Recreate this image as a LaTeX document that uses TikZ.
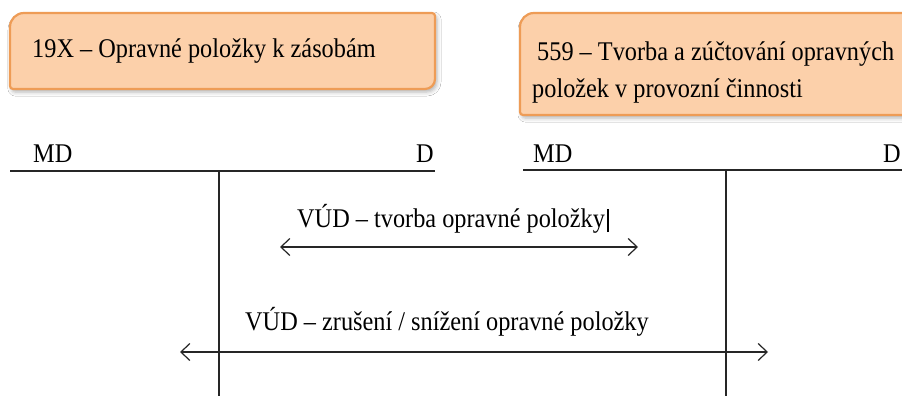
\documentclass[tikz,border=0pt]{standalone}
\usepackage{fontspec}
\setmainfont{Liberation Serif}[FakeStretch=0.9]
\usetikzlibrary{arrows.meta,shadows.blur}
\definecolor{boxfill}{RGB}{252,208,170}
\definecolor{boxline}{RGB}{238,156,86}
\begin{document}
\begin{tikzpicture}[x=1pt,y=-1pt,
  every node/.style={inner sep=0pt,font=\fontsize{27}{31}\selectfont},
  title/.style={fill=boxfill,draw=boxline,line width=2.2pt,
    blur shadow={shadow xshift=2pt,shadow yshift=-3pt,shadow blur radius=4pt,shadow opacity=30}},
  rule/.style={line width=1.2pt,black!85},
  flow/.style={line width=1.2pt,black!85,{Straight Barb[length=9pt,width=17pt]}-{Straight Barb[length=9pt,width=17pt]}}]
\useasboundingbox (0,0) rectangle (902,396);
\clip (0,0) rectangle (902,396);
\fill[white] (0,0) rectangle (902,396);

% account title boxes
\path[title] (10,27) arc[start angle=180,end angle=270,radius=14] -- (432,13)
  arc[start angle=270,end angle=360,radius=3] -- (435,79)
  arc[start angle=0,end angle=90,radius=10] -- (13,89)
  arc[start angle=90,end angle=180,radius=3] -- cycle;
\path[title] (520,27) arc[start angle=180,end angle=270,radius=14] -- (920,13)
  -- (920,115) -- (523,115)
  arc[start angle=90,end angle=180,radius=3] -- cycle;
\node[anchor=base west] (t1) at (32,58) {19X – Opravné položky k zásobám};
\node[anchor=base west] (t2a) at (537,60) {559 – Tvorba a zúčtování opravných};
\node[anchor=base west] (t2b) at (532,97) {položek v provozní činnosti};

% T-account of 19X
\node[anchor=base west] (md1) at (33,162) {MD};
\node[anchor=base west] (d1) at (416,162) {D};
\coordinate (h1a) at (10,171);
\coordinate (h1b) at (435,171);
\coordinate (v1a) at (219,171);
\coordinate (v1b) at (219,400);
\draw[rule] (h1a) -- (h1b);
\draw[rule] (v1a) -- (v1b);

% T-account of 559
\node[anchor=base west] (md2) at (533,162) {MD};
\node[anchor=base west] (d2) at (883,162) {D};
\coordinate (h2a) at (523,170);
\coordinate (h2b) at (905,170);
\coordinate (v2a) at (726,170);
\coordinate (v2b) at (726,400);
\draw[rule] (h2a) -- (h2b);
\draw[rule] (v2a) -- (v2b);

% postings
\node[anchor=base west] (p1) at (297,227) {VÚD – tvorba opravné položky};
\draw[line width=1.8pt] ([xshift=3pt]p1.base east) ++(0,5) -- ++(0,-23);
\coordinate (a1l) at (280,247);
\coordinate (a1r) at (638,247);
\draw[flow] (a1l) -- (a1r);

\node[anchor=base west] (p2) at (245,330) {VÚD – zrušení / snížení opravné položky};
\coordinate (a2l) at (180,352);
\coordinate (a2r) at (768,352);
\draw[flow] (a2l) -- (a2r);
\end{tikzpicture}
\end{document}
